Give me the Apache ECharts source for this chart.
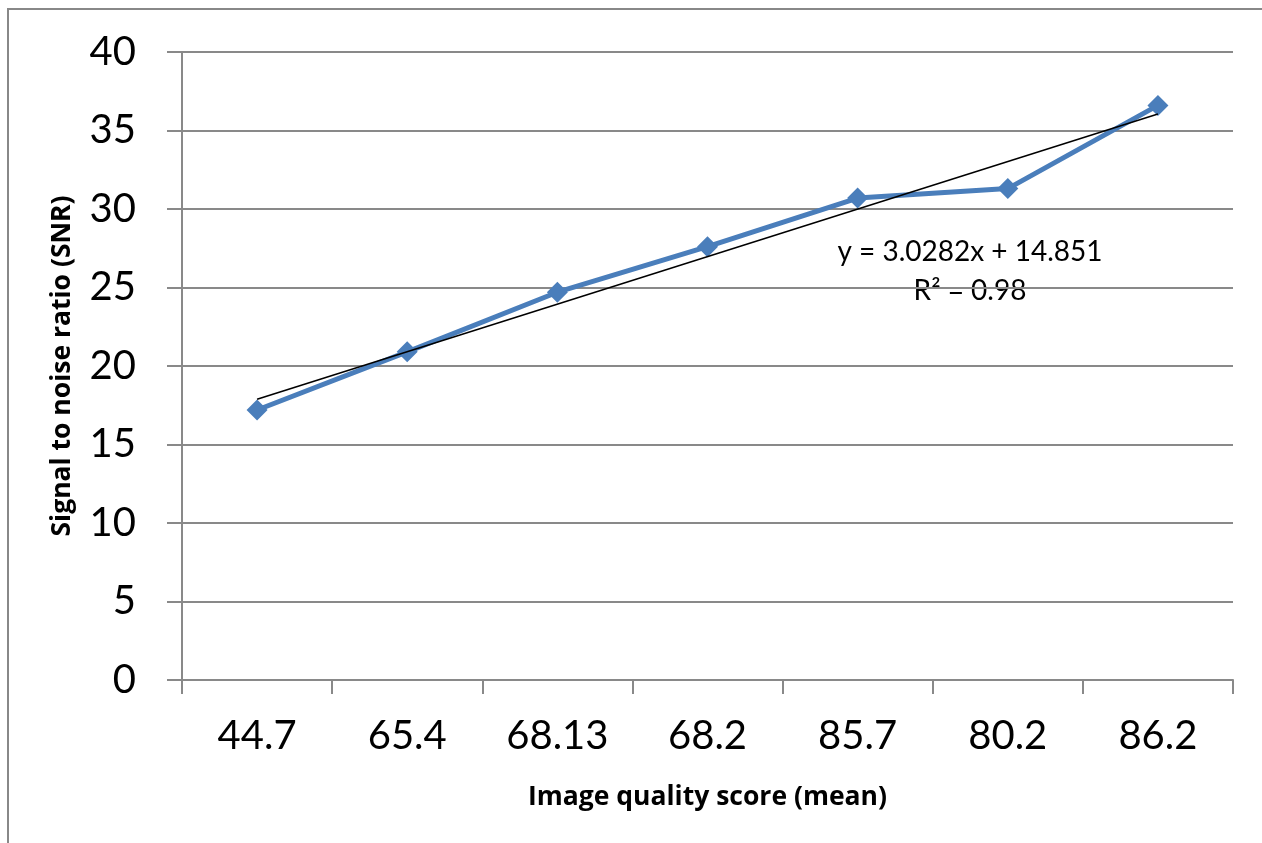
<!DOCTYPE html>
<html>
<head>
<meta charset="utf-8">
<script src="https://cdn.jsdelivr.net/npm/echarts@6/dist/echarts.min.js"></script>
<style>
  * { margin: 0; padding: 0; }
  html, body { background: #fff; }
  #chart-container { width: 1262px; height: 843px; }
</style>
</head>
<body>
<div id="chart-container"></div>
<script>
  // values
  var categories = ['44.7', '65.4', '68.13', '68.2', '85.7', '80.2', '86.2']
  var snrValues = [17.2, 20.9, 24.7, 27.6, 30.7, 31.3, 36.6]
  // linear trendline, ends at first and last category
  var trendValues = [17.88, null, null, null, null, null, 36.05]
  var yTicks = [0, 5, 10, 15, 20, 25, 30, 35, 40]
  var xTitle = 'Image quality score (mean)'
  var yTitle = 'Signal to noise ratio (SNR)'
  var equationText = 'y = 3.0282x + 14.851'
  var r2Text = 'R² = 0.98'

  var chartDom = document.getElementById('chart-container')
  var myChart = echarts.init(chartDom, null, { renderer: 'canvas' })
  var font = 'Lato, "Open Sans", sans-serif'
  var titleFont = '"Open Sans", Lato, sans-serif'

  var option = {
    animation: false,
    backgroundColor: '#fff',
    grid: { left: 182, right: 29, top: 52, bottom: 163, containLabel: false },
    xAxis: {
      type: 'category',
      data: categories,
      boundaryGap: true,
      name: xTitle,
      nameLocation: 'middle',
      nameGap: 104,
      nameMoveOverlap: false,
      nameTextStyle: { fontFamily: titleFont, fontWeight: 'bold', fontSize: 26.5, color: '#000' },
      axisLine: { lineStyle: { color: '#898989', width: 2 } },
      axisTick: { show: true, length: 14, lineStyle: { color: '#898989', width: 2 } },
      axisLabel: { fontFamily: font, fontSize: 40, color: '#000', margin: 36 },
      splitLine: { show: false }
    },
    yAxis: {
      type: 'value',
      min: yTicks[0],
      max: yTicks[yTicks.length - 1],
      interval: 5,
      axisLine: { show: true, lineStyle: { color: '#898989', width: 2 } },
      axisTick: { show: true, length: 15, lineStyle: { color: '#898989', width: 2 } },
      axisLabel: { fontFamily: font, fontSize: 40, color: '#000', margin: 46 },
      splitLine: { show: true, lineStyle: { color: '#898989', width: 2 } }
    },
    series: [
      {
        type: 'line',
        data: snrValues,
        symbol: 'diamond',
        symbolSize: 21,
        itemStyle: { color: '#4a7ebb' },
        lineStyle: { color: '#4a7ebb', width: 5 },
        z: 2
      },
      {
        type: 'line',
        data: trendValues,
        connectNulls: true,
        symbol: 'none',
        lineStyle: { color: '#000', width: 1.5 },
        z: 3
      }
    ],
    graphic: [
      {
        type: 'rect',
        shape: { x: 8, y: 9, width: 1400, height: 1000 },
        style: { fill: 'none', stroke: '#888', lineWidth: 2 },
        silent: true
      },
      {
        // y axis title, drawn by hand so it sits where the reference has it
        type: 'text',
        x: 62,
        y: 366,
        rotation: Math.PI / 2,
        style: {
          text: yTitle,
          font: 'bold 26.5px ' + titleFont,
          fill: '#000',
          align: 'center',
          verticalAlign: 'middle'
        }
      },
      {
        type: 'text',
        x: 970,
        y: 252,
        style: {
          text: equationText,
          font: '28px ' + font,
          fill: '#000',
          align: 'center',
          verticalAlign: 'middle'
        }
      },
      {
        type: 'text',
        x: 970,
        y: 291,
        style: {
          text: r2Text,
          font: '28px ' + font,
          fill: '#000',
          align: 'center',
          verticalAlign: 'middle'
        }
      }
    ]
  }
  myChart.setOption(option)
  window.addEventListener('resize', myChart.resize)
</script>
</body>
</html>
